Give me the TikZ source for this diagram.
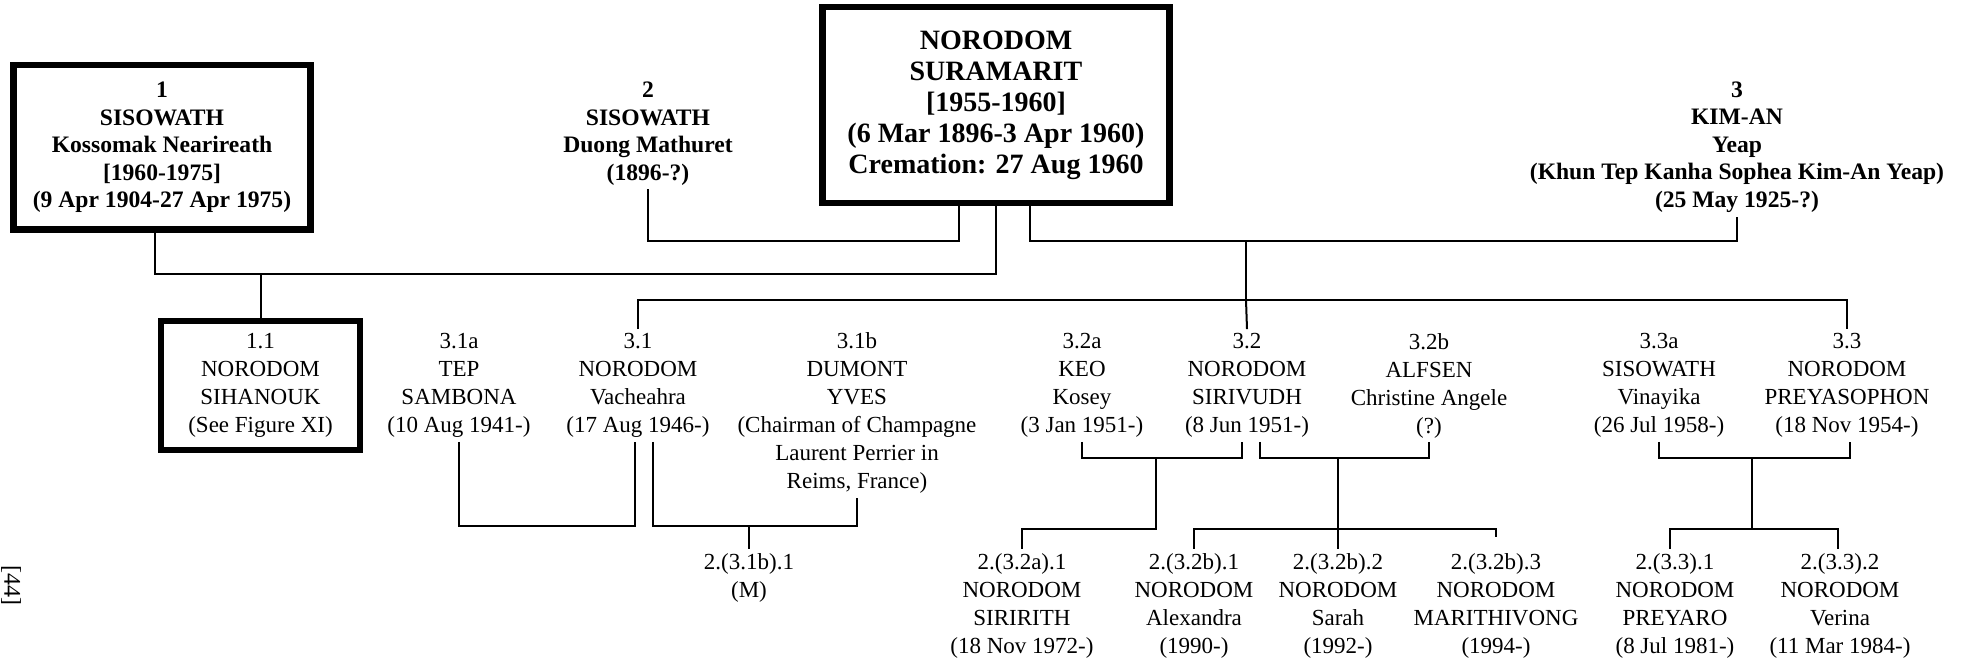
\documentclass[tikz,border=0pt]{standalone}
\usepackage{fontspec}
\setmainfont{Liberation Serif}
\usepackage{tikz}

\begin{document}
\begin{tikzpicture}[
  x=0.5pt, y=-0.5pt,
  person/.style={align=center, inner sep=2pt, font=\fontsize{11.5}{14}\selectfont},
  elder/.style={align=center, inner sep=2pt, font=\bfseries\fontsize{11.8}{13.75}\selectfont},
  frame/.style={draw, line width=3.2pt},
  link/.style={line width=1pt}
]
  \useasboundingbox (0,0) rectangle (1967,663);

  \node[elder, frame, minimum width=148.4pt, minimum height=82.2pt] (sisowath) at (162,147.5) {1\\SISOWATH\\Kossomak Nearireath\\{}[1960-1975]\\(9 Apr 1904-27 Apr 1975)};
  \node[elder] (duong) at (648,133.5) {2\\SISOWATH\\Duong Mathuret\\(1896-?)};
  \node[frame, align=center, inner sep=2pt, font=\bfseries\fontsize{14}{15.5}\selectfont, minimum width=173.5pt, minimum height=97.8pt] (suramarit) at (996,105) {NORODOM\\SURAMARIT\\{}[1955-1960]\\(6 Mar 1896-3 Apr 1960)\\Cremation: 27 Aug 1960};
  \node[elder] (kimAn) at (1737,147) {3\\KIM-AN\\Yeap\\(Khun Tep Kanha Sophea Kim-An Yeap)\\(25 May 1925-?)};

  \node[person, frame, minimum width=99.5pt, minimum height=64.5pt] (sihanouk) at (260.5,385.5) {1.1\\NORODOM\\SIHANOUK\\(See Figure XI)};
  \node[person] (sambona) at (459,385.5) {3.1a\\TEP\\SAMBONA\\(10 Aug 1941-)};
  \node[person] (vacheahra) at (638,385.5) {3.1\\NORODOM\\Vacheahra\\(17 Aug 1946-)};
  \node[person] (dumont) at (857,413) {3.1b\\DUMONT\\YVES\\(Chairman of Champagne\\Laurent Perrier in\\Reims, France)};
  \node[person] (kosey) at (1082,385.5) {3.2a\\KEO\\Kosey\\(3 Jan 1951-)};
  \node[person] (sirivudh) at (1247,385.5) {3.2\\NORODOM\\SIRIVUDH\\(8 Jun 1951-)};
  \node[person] (alfsen) at (1429,385.5) {3.2b\\ALFSEN\\Christine Angele\\(?)};
  \node[person] (vinayika) at (1659,385.5) {3.3a\\SISOWATH\\Vinayika\\(26 Jul 1958-)};
  \node[person] (preyasophon) at (1847,385.5) {3.3\\NORODOM\\PREYASOPHON\\(18 Nov 1954-)};

  \node[person] (sonM) at (749,578) {2.(3.1b).1\\(M)};
  \node[person] (siririth) at (1022,605.5) {2.(3.2a).1\\NORODOM\\SIRIRITH\\(18 Nov 1972-)};
  \node[person] (alexandra) at (1194,605.5) {2.(3.2b).1\\NORODOM\\Alexandra\\(1990-)};
  \node[person] (sarah) at (1338,605.5) {2.(3.2b).2\\NORODOM\\Sarah\\(1992-)};
  \node[person] (marithivong) at (1496,605.5) {2.(3.2b).3\\NORODOM\\MARITHIVONG\\(1994-)};
  \node[person] (preyaro) at (1675,605.5) {2.(3.3).1\\NORODOM\\PREYARO\\(8 Jul 1981-)};
  \node[person] (verina) at (1840,605.5) {2.(3.3).2\\NORODOM\\Verina\\(11 Mar 1984-)};

  \node[rotate=-90, inner sep=0pt, font=\fontsize{12}{14}\selectfont] (folio) at (11,585) {[44]};

  \coordinate (busA) at (500,274);
  \coordinate (busB) at (800,241);
  \coordinate (busC) at (1246,241);
  \coordinate (busD) at (1246,300);

  \draw[link] ([xshift=-3.5pt]sisowath.south) |- (busA) -| (suramarit.south);
  \draw[link] (sihanouk.north) -- (sihanouk.north |- busA);
  \draw[link] (duong.south) |- (busB) -| ([xshift=-18.7pt]suramarit.south);
  \draw[link] ([xshift=16.8pt]suramarit.south) |- (busC) -| (kimAn.south);
  \draw[link] (busC) -- (busD);
  \draw[link] (vacheahra.north) |- (busD) -| (preyasophon.north);
  \draw[link] (busD) -- (sirivudh.north);

  \coordinate (wedA) at (545,526);
  \coordinate (wedB) at (749,526);
  \draw[link] (sambona.south) |- (wedA) -| ([xshift=-1.5pt]vacheahra.south);
  \draw[link] ([xshift=7.5pt]vacheahra.south) |- (wedB) -| (dumont.south);
  \draw[link] (wedB) -- (sonM.north);

  \coordinate (wedC) at (1156,458);
  \coordinate (kinC) at (1156,529);
  \draw[link] (kosey.south) |- (wedC) -| ([xshift=-2.75pt]sirivudh.south);
  \draw[link] (wedC) -- (kinC) -| (siririth.north);

  \coordinate (wedD) at (1338,458);
  \coordinate (kinD) at (1338,529);
  \draw[link] ([xshift=6.5pt]sirivudh.south) |- (wedD) -| (alfsen.south);
  \draw[link] (wedD) -- (sarah.north);
  \draw[link] (alexandra.north) |- (kinD) -| ([yshift=6pt]marithivong.north);

  \coordinate (wedE) at (1752,458);
  \coordinate (kinE) at (1752,529);
  \draw[link] (vinayika.south) |- (wedE) -| ([xshift=1.5pt]preyasophon.south);
  \draw[link] (wedE) -- (kinE);
  \draw[link] ([xshift=-2.5pt]preyaro.north) |- (kinE) -| ([xshift=-1pt]verina.north);
\end{tikzpicture}
\end{document}
